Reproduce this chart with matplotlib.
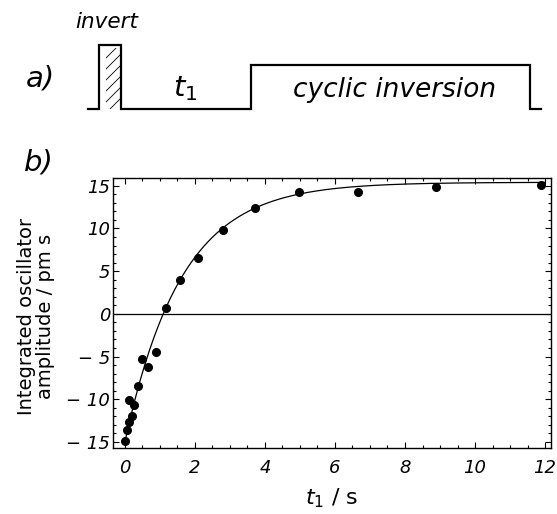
import numpy as np
import matplotlib
matplotlib.use("Agg")
import matplotlib.pyplot as plt
from matplotlib.patches import Rectangle
from matplotlib.ticker import MultipleLocator, FuncFormatter

# measured data, panel b
t1 = [0.0, 0.07, 0.11, 0.13, 0.19, 0.27, 0.36, 0.48, 0.65, 0.88,
      1.17, 1.56, 2.09, 2.80, 3.72, 4.98, 6.67, 8.89, 11.89]
amp = [-14.85, -13.6, -12.7, -10.1, -12.0, -10.7, -8.4, -5.3, -6.25, -4.45,
       0.74, 3.95, 6.5, 9.85, 12.4, 14.3, 14.3, 14.9, 15.1]

# fit: A - B*exp(-t/T1)
fit_A = 15.4
fit_B = 30.4
fit_T1 = 1.61

# pulse sequence outline for panel a (figure pixels)
seq_x = [88, 99, 99, 120.5, 120.5, 251, 251, 530, 530, 541]
seq_y = [109, 109, 45, 45, 109, 109, 65, 65, 109, 109]

W, H = 557, 514
fig = plt.figure(figsize=(W / 100, H / 100), dpi=100)

# overlay for the sketch in pixel coordinates
ov = fig.add_axes([0, 0, 1, 1])
ov.set_xlim(0, W)
ov.set_ylim(H, 0)
ov.axis("off")

ov.plot(seq_x, seq_y, color="black", lw=1.6, solid_joinstyle="miter")

# hatched part of the invert pulse, drawn as clipped diagonals
hbox = Rectangle((106, 48), 14.5, 61, fill=False, lw=0)
ov.add_patch(hbox)
for y0 in np.arange(58, 130, 11):
    ln, = ov.plot([106, 126], [y0, y0 - 20], color="black", lw=0.6)
    ln.set_clip_path(hbox)

ov.text(107, 22, "invert", fontsize=15.5, style="italic", ha="center", va="center")
ov.text(40, 79, "a)", fontsize=21, style="italic", ha="center", va="center")
ov.text(185, 89, r"$t_{\mathregular{1}}$", fontsize=21, ha="center", va="center")
ov.text(395, 90, "cyclic inversion", fontsize=19, style="italic",
        ha="center", va="center")
ov.text(39, 162, "b)", fontsize=21, style="italic", ha="center", va="center")
ov.text(36, 316, "Integrated oscillator\namplitude / pm s", fontsize=14,
        rotation=90, ha="center", va="center", multialignment="center",
        linespacing=1.05)

# main plot
left, right, top, bottom = 113, 551, 178, 448
ax = fig.add_axes([left / W, 1 - bottom / H, (right - left) / W, (bottom - top) / H])
ax.set_xlim(-0.34, 12.17)
ax.set_ylim(-15.7, 15.9)

ax.axhline(0, color="black", lw=0.9)
tt = np.linspace(0, 12, 400)
ax.plot(tt, fit_A - fit_B * np.exp(-tt / fit_T1), color="black", lw=0.9)
ax.plot(t1, amp, "o", color="black", ms=5.5)

ax.xaxis.set_major_locator(MultipleLocator(2))
ax.xaxis.set_minor_locator(MultipleLocator(0.5))
ax.yaxis.set_major_locator(MultipleLocator(5))
ax.yaxis.set_minor_locator(MultipleLocator(1))
ax.tick_params(which="both", direction="in", top=True, right=True, width=0.8)
ax.tick_params(which="major", length=4)
ax.tick_params(which="minor", length=2.2)
ax.tick_params(axis="x", pad=8)
ax.tick_params(axis="y", pad=2)


def ylab(v, pos):
    v = int(round(v))
    return "\u2212 %d" % -v if v < 0 else "%d" % v


ax.yaxis.set_major_formatter(FuncFormatter(ylab))
for lab in ax.get_xticklabels() + ax.get_yticklabels():
    lab.set_fontsize(13)
    lab.set_style("italic")

ax.set_xlabel(r"$t_{\mathregular{1}}$ / s", fontsize=16, labelpad=7)

for s in ax.spines.values():
    s.set_linewidth(1.0)

fig.savefig("out.png", dpi=100)
